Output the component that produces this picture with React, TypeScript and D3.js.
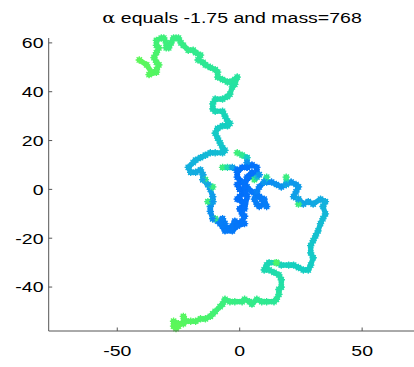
import React from "react";
import * as d3 from "d3";

// Lattice walk, traced as [x, y, order] waypoints; order (0..1) drives the colour.
const upperArm: [number, number, number][] = [
  [-41, 53, 1.0], [-38, 51, 0.99], [-36, 48, 0.98], [-37, 47, 0.98], [-34, 48, 0.97],
  [-34, 49, 0.97], [-33, 51, 0.96], [-34, 52, 0.96], [-35, 54, 0.95], [-34, 56, 0.94],
  [-33, 58, 0.93], [-34, 59, 0.92], [-34, 61, 0.91], [-32, 62, 0.9], [-31, 62, 0.9],
  [-30, 60, 0.89], [-30, 58, 0.89], [-29, 58, 0.88], [-28, 60, 0.88], [-27, 62, 0.87],
  [-26, 62, 0.87], [-25, 62, 0.86], [-24, 60, 0.85], [-23, 59, 0.85], [-21, 57, 0.84],
  [-19, 57, 0.83], [-18, 56, 0.82], [-16, 55, 0.81], [-17, 53, 0.8], [-15, 52, 0.8],
  [-14, 51, 0.79], [-12, 50, 0.78], [-10, 49, 0.78], [-9, 48, 0.77], [-9, 46, 0.77],
  [-7, 45, 0.76], [-5, 44, 0.76], [-4, 44, 0.75], [-2, 45, 0.75], [-1, 46, 0.75],
  [-2, 43, 0.74], [-3, 42, 0.73], [-4, 39, 0.72], [-5, 38, 0.71], [-7, 37, 0.7],
  [-10, 37, 0.69], [-11, 35, 0.68], [-11, 33, 0.67], [-10, 32, 0.66], [-7, 32, 0.65],
  [-6, 30, 0.64], [-5, 28, 0.62], [-4, 27, 0.62], [-5, 26, 0.61], [-7, 26, 0.6],
  [-9, 25, 0.59], [-10, 23, 0.58], [-9, 21, 0.57], [-8, 19, 0.56], [-7, 17, 0.55],
  [-6, 16, 0.54], [-7, 15, 0.52], [-10, 15, 0.51], [-12, 15, 0.5], [-14, 14, 0.49],
  [-16, 13, 0.48], [-18, 12, 0.47], [-19, 11, 0.46], [-21, 9, 0.45], [-20, 7, 0.44],
  [-18, 7, 0.43], [-16, 8, 0.42], [-15, 6, 0.41], [-15, 4, 0.4], [-13, 2, 0.39],
  [-12, 0, 0.37], [-11, -3, 0.35], [-11, -5, 0.33], [-12, -7, 0.31], [-12, -9, 0.29],
  [-11, -12, 0.27], [-9, -13, 0.25],
];

const coreLoop: [number, number, number][] = [
  [-7, -12, 0.2], [-6, -14, 0.18], [-7, -15, 0.17], [-5, -16, 0.16], [-3, -15, 0.15],
  [-2, -13, 0.14], [-1, -14, 0.13], [1, -13, 0.12], [2, -11, 0.12], [1, -10, 0.11],
  [0, -8, 0.1], [2, -6, 0.1], [1, -5, 0.09], [-1, -4, 0.09], [0, -3, 0.08],
  [2, -1, 0.08], [0, 0, 0.08], [-1, 2, 0.08], [1, 3, 0.08], [-1, 5, 0.08],
  [-1, 7, 0.08], [1, 9, 0.09], [3, 9, 0.1], [5, 10, 0.1], [7, 9, 0.11],
  [7, 7, 0.11], [6, 5, 0.12], [4, 5, 0.12], [2, 3, 0.13], [3, 1, 0.13],
  [5, -1, 0.14], [7, -2, 0.15], [9, -4, 0.16], [10, -6, 0.17], [8, -7, 0.17],
  [7, -6, 0.18], [6, -4, 0.18], [7, -1, 0.2], [8, 1, 0.22], [10, 3, 0.25],
];

const southArm: [number, number, number][] = [
  [11, 3, 0.27], [13, 3, 0.28], [15, 2, 0.3], [17, 1, 0.31], [19, 2, 0.32],
  [21, 3, 0.33], [23, 2, 0.34], [24, 1, 0.35], [23, -1, 0.36], [22, -3, 0.37],
  [24, -4, 0.38], [26, -6, 0.39], [28, -5, 0.4], [30, -6, 0.41], [33, -4, 0.43],
  [35, -5, 0.45], [34, -7, 0.46], [35, -10, 0.48], [34, -12, 0.5], [33, -14, 0.51],
  [32, -17, 0.52], [31, -19, 0.53], [30, -21, 0.55], [29, -23, 0.56], [29, -26, 0.57],
  [30, -28, 0.58], [29, -31, 0.59], [28, -33, 0.6], [26, -33, 0.6], [24, -32, 0.61],
  [22, -31, 0.61], [20, -31, 0.62], [17, -31, 0.63], [15, -30, 0.64], [12, -30, 0.65],
  [11, -31, 0.66], [10, -33, 0.67], [12, -33, 0.68], [14, -34, 0.69], [16, -35, 0.7],
  [17, -37, 0.71], [17, -40, 0.72], [16, -41, 0.73], [16, -43, 0.75], [15, -45, 0.77],
  [14, -46, 0.78], [11, -46, 0.8], [9, -46, 0.81], [7, -45, 0.82], [5, -47, 0.83],
  [4, -46, 0.84], [2, -45, 0.85], [1, -46, 0.85], [-2, -46, 0.86], [-4, -46, 0.87],
  [-6, -45, 0.88], [-7, -47, 0.89], [-8, -48, 0.9], [-10, -50, 0.91], [-11, -51, 0.92],
  [-12, -52, 0.93], [-14, -53, 0.94], [-16, -53, 0.95], [-18, -54, 0.96], [-20, -54, 0.97],
  [-22, -54, 0.97], [-23, -52, 0.98], [-23, -55, 0.98], [-25, -55, 0.99], [-27, -54, 0.99],
  [-27, -56, 1.0], [-26, -57, 1.0], [-25, -56, 1.0],
];

// Short branches hanging off the main walk (tip first, attachment last).
const branches: [number, number, number][][] = [
  [[-1, 15, 0.9], [1, 14, 0.8], [3, 13, 0.6], [3, 11, 0.3], [3, 9, 0.1]],
  [[-7, 9, 0.88], [-5, 9, 0.7], [-3, 9, 0.4], [-1, 8, 0.1]],
  [[6, 4, 0.9], [7, 5, 0.5], [8, 6, 0.3]],
  [[11, 5, 0.8], [10, 3, 0.3]],
  [[19, 5, 0.9], [19, 2, 0.35]],
  [[-14, 4, 0.88], [-15, 4, 0.4]],
  [[-11, 1, 0.88], [-13, 2, 0.4]],
  [[-13, -5, 0.9], [-11, -5, 0.33]],
  [[-10, -12, 0.9], [-11, -12, 0.27]],
  [[24, -6, 0.9], [24, -4, 0.38]],
  [[15, -30, 0.95], [15, -30, 0.95]],
  [[-8, -14, 0.18], [-6, -17, 0.16], [-3, -17, 0.15], [-1, -15, 0.13], [2, -14, 0.12]],
  [[2, -8, 0.1], [3, -3, 0.1], [2, 1, 0.1], [3, 5, 0.1], [5, 7, 0.1]],
  [[8, -3, 0.16], [10, -4, 0.17], [11, -7, 0.18]],
];

const title = "equals -1.75 and mass=768";
const xTicks = [-50, 0, 50];
const yTicks = [-40, -20, 0, 20, 40, 60];

const W = 414;
const H = 367;
const xScale = d3.scaleLinear().domain([-78, 72]).range([48.7, 416]);
const yScale = d3.scaleLinear().domain([-58, 62]).range([331, 38]);
const colour = d3
  .scaleLinear<string>()
  .domain([0, 0.25, 0.45, 0.6, 0.75, 0.9, 1])
  .range(["#0064ff", "#0a88f4", "#14b0de", "#14cec2", "#28e49e", "#3ef07a", "#5cf75a"])
  .interpolate(d3.interpolateRgb)
  .clamp(true);

const walk = [...upperArm, ...coreLoop, ...southArm];
const font = "'Liberation Sans', Arial, Helvetica, sans-serif";

function Track({ pts }: { pts: [number, number, number][] }) {
  const segs = [];
  for (let i = 1; i < pts.length; i++) {
    const a = pts[i - 1];
    const b = pts[i];
    segs.push(
      <line
        key={"s" + i}
        x1={xScale(a[0])}
        y1={yScale(a[1])}
        x2={xScale(b[0])}
        y2={yScale(b[1])}
        stroke={colour((a[2] + b[2]) / 2)}
        strokeWidth={5.2}
        strokeLinecap="round"
      />
    );
  }
  const r = 3.7;
  const q = r * 0.72;
  const star = `M${-r},0h${2 * r}M0,${-r}v${2 * r}M${-q},${-q}l${2 * q},${2 * q}M${-q},${q}l${2 * q},${-2 * q}`;
  return (
    <g>
      {segs}
      {pts.map((p, i) => (
        <path
          key={"m" + i}
          d={star}
          transform={`translate(${xScale(p[0])},${yScale(p[1])})`}
          stroke={colour(p[2])}
          strokeWidth={1.3}
          fill="none"
        />
      ))}
    </g>
  );
}

export default function App() {
  const x0 = xScale.range()[0];
  const y0 = yScale.range()[0];
  return (
    <svg
      width={W}
      height={H}
      style={{ position: "absolute", left: 0, top: 0, background: "#fff" }}
    >
      <rect width={W} height={H} fill="#fff" />
      <g>
        <Track pts={walk} />
        {branches.map((b, i) => (
          <Track key={i} pts={b} />
        ))}
      </g>
      <g stroke="#555" strokeWidth={1} fill="none">
        <line x1={x0} y1={yScale.range()[1]} x2={x0} y2={y0} />
        <line x1={x0} y1={y0} x2={W} y2={y0} />
        {xTicks.map((t) => (
          <line key={t} x1={xScale(t)} x2={xScale(t)} y1={y0} y2={y0 - 3.5} />
        ))}
        {yTicks.map((t) => (
          <line key={t} x1={x0} x2={x0 + 3.5} y1={yScale(t)} y2={yScale(t)} />
        ))}
      </g>
      <g fontFamily={font} fontSize={15} fill="#000">
        {xTicks.map((t) => (
          <text key={t} textAnchor="middle" transform={`translate(${xScale(t)},356) scale(1.3,1)`}>
            {t}
          </text>
        ))}
        {yTicks.map((t) => (
          <text
            key={t}
            textAnchor="end"
            dy="0.36em"
            transform={`translate(43.5,${yScale(t)}) scale(1.3,1)`}
          >
            {t}
          </text>
        ))}
        <text textAnchor="middle" transform={`translate(232,22.5) scale(1.3,1)`}>
          <tspan fontFamily="'DejaVu Serif', serif">α</tspan> {title}
        </text>
      </g>
    </svg>
  );
}
